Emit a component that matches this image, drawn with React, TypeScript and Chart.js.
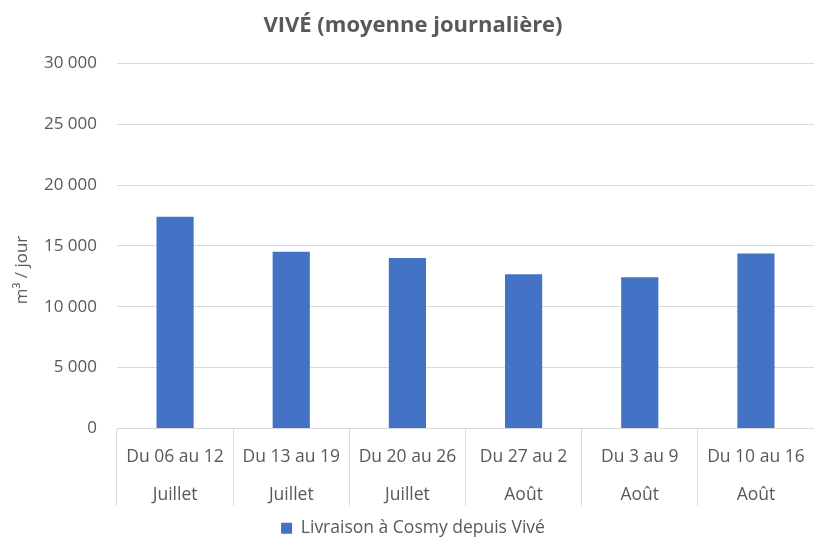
import React, { useEffect, useRef } from "react";
import { Chart, registerables } from "chart.js";

Chart.register(...registerables);

const weeks = ["Du 06 au 12", "Du 13 au 19", "Du 20 au 26", "Du 27 au 2", "Du 3 au 9", "Du 10 au 16"];
const months = ["Juillet", "Juillet", "Juillet", "Août", "Août", "Août"];
const values = [17400, 14530, 14020, 12680, 12430, 14370];
const yTicks = [0, 5000, 10000, 15000, 20000, 25000, 30000];

const FONT = "'Open Sans', sans-serif";
const GREY = "#595959";

function fmt(v: number): string {
  return String(v).replace(/\B(?=(\d{3})+(?!\d))/g, " ");
}

export default function App() {
  const ref = useRef<HTMLCanvasElement | null>(null);
  useEffect(() => {
    document.body.style.margin = "0";
    const yTitlePlugin = {
      id: "yTitle",
      afterDraw(chart: any) {
        const ctx = chart.ctx;
        ctx.save();
        ctx.translate(22, 270);
        ctx.rotate(-Math.PI / 2);
        ctx.fillStyle = GREY;
        ctx.font = `17px ${FONT}`;
        ctx.textAlign = "center";
        ctx.textBaseline = "middle";
        ctx.fillText("m³ / jour", 0, 0);
        ctx.restore();
      },
    };
    const chart = new Chart(ref.current!, {
      type: "bar",
      data: {
        labels: weeks.map((w, i) => [w, months[i]]),
        datasets: [
          {
            label: "Livraison à Cosmy depuis Vivé",
            data: values,
            backgroundColor: "#4472C4",
            borderWidth: 0,
            barPercentage: 0.32,
            categoryPercentage: 1,
          },
        ],
      },
      options: {
        responsive: false,
        animation: false,
        layout: { padding: { top: 0, right: 0, bottom: 2, left: 12 } },
        plugins: {
          title: {
            display: true,
            text: "VIVÉ (moyenne journalière)",
            color: GREY,
            font: { family: FONT, size: 22, weight: "bold" },
            padding: { top: 13, bottom: 24 },
          },
          legend: {
            position: "bottom",
            labels: {
              color: GREY,
              font: { family: FONT, size: 17.5 },
              boxWidth: 11,
              boxHeight: 11,
              padding: 9,
            },
          },
          tooltip: { enabled: false },
        },
        scales: {
          x: {
            grid: {
              display: true,
              offset: true,
              drawOnChartArea: false,
              drawTicks: true,
              tickLength: 77,
              color: "#d9d9d9",
            },
            border: { display: true, color: "#d9d9d9" },
            ticks: {
              color: GREY,
              font: { family: FONT, size: 17.5, lineHeight: 38 / 17.5 },
              padding: -67,
              maxRotation: 0,
              autoSkip: false,
            },
            afterFit(s: any) {
              s.height = 82;
            },
          },
          y: {
            min: 0,
            max: 30000,
            afterBuildTicks(s: any) {
              s.ticks = yTicks.map((v) => ({ value: v }));
            },
            grid: { color: "#d9d9d9", drawTicks: false },
            border: { display: false },
            ticks: {
              color: GREY,
              font: { family: FONT, size: 17 },
              padding: 20,
              callback: (v: any) => fmt(Number(v)),
            },
            afterFit(s: any) {
              s.width = 105;
            },
          },
        },
      },
      plugins: [yTitlePlugin],
    });
    return () => chart.destroy();
  }, []);
  return <canvas ref={ref} width={814} height={549} style={{ display: "block" }} />;
}
